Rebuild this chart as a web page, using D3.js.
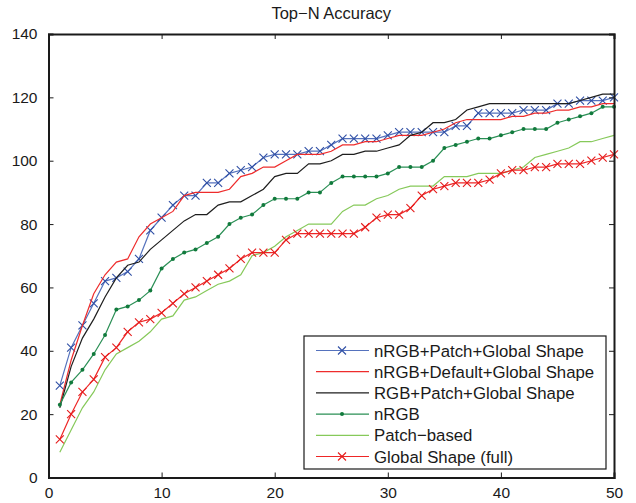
<!DOCTYPE html>
<html>
<head>
<meta charset="utf-8">
<script src="https://cdn.jsdelivr.net/npm/d3@7"></script>
<style>
  body { margin: 0; background: #fff; }
  text { font-family: "Liberation Sans", Arial, Helvetica, sans-serif; fill: #1a1a1a; }
</style>
</head>
<body>
<div id="chart"></div>
<script>
// ranks 1..50
var ranks = d3.range(1, 51);

var xTicks = [0, 10, 20, 30, 40, 50];
var yTicks = [0, 20, 40, 60, 80, 100, 120, 140];

var chartTitle = "Top\u2212N Accuracy";

var seriesNames = [
  "nRGB+Patch+Global Shape",
  "nRGB+Default+Global Shape",
  "RGB+Patch+Global Shape",
  "nRGB",
  "Patch\u2212based",
  "Global Shape (full)"
];

var nrgbPatchGlobal = [29,41,48,55,62,63,65,69,78,82, 86,89,89,93,93,96,97,98,101,102,
  102,102,103,103,105,107,107,107,107,108, 109,109,109,109,109,111,111,115,115,115,
  115,116,116,116,118,118,119,119,119,120];

var nrgbDefaultGlobal = [23,37,48,58,64,68,69,76,80,82, 84,89,90,90,90,91,95,96,98,98,
  100,102,102,102,103,105,105,106,106,107, 108,108,108,109,110,112,113,113,113,113,
  114,114,115,115,116,116,117,117,118,118];

var rgbPatchGlobal = [22,35,44,50,57,63,67,68,72,75, 78,81,83,83,86,87,87,89,91,95,
  96,96,99,99,100,102,102,103,103,104, 105,108,109,112,112,113,116,117,118,118,
  118,118,118,118,118,118,119,120,121,121];

var nrgb = [23,30,34,39,45,53,54,56,59,66, 69,71,72,74,76,80,82,83,86,88,
  88,88,90,90,93,95,95,95,95,96, 98,98,98,100,104,105,106,107,107,108,
  109,110,110,110,112,113,114,115,117,117];

var patchBased = [8,15,22,27,34,39,41,43,46,50, 51,56,57,59,61,62,64,70,71,73,
  76,78,80,80,80,84,86,86,88,89, 91,92,92,92,95,95,95,96,96,96,
  97,98,101,102,103,104,106,106,107,108];

var globalShapeFull = [12,20,27,31,38,41,46,49,50,52, 55,58,60,62,64,66,69,71,71,71,
  75,77,77,77,77,77,77,79,82,83, 83,85,89,91,92,93,93,93,94,96,
  97,97,98,98,99,99,99,100,101,102];

// styles per series (same order as names)
var styles = [
  {values: nrgbPatchGlobal,   color: "#5572bd", mark: "#2f4fa5", marker: "x"},
  {values: nrgbDefaultGlobal, color: "#ee2c2c", mark: null,      marker: null},
  {values: rgbPatchGlobal,    color: "#1e1e1e", mark: null,      marker: null},
  {values: nrgb,              color: "#2a8f55", mark: "#117a3c", marker: "dot"},
  {values: patchBased,        color: "#86c95a", mark: null,      marker: null},
  {values: globalShapeFull,   color: "#ee2626", mark: "#e51b1b", marker: "x"}
];

// #####################################################
// Plot
//
function plot_chart (div_id) {
  var W = 636, H = 503;
  var left = 48.5, right = 614, top = 34, bottom = 477.5;

  var svg = d3.select(div_id).append("svg")
      .attr("width", W)
      .attr("height", H);

  var x = d3.scaleLinear().domain([0, 50]).range([left, right]);
  var y = d3.scaleLinear().domain([0, 140]).range([bottom, top]);

  // title
  svg.append("text")
      .attr("x", (left + right) / 2)
      .attr("y", 19)
      .attr("text-anchor", "middle")
      .style("font-size", "16.5px")
      .text(chartTitle);

  var line = d3.line()
      .x(function(d, i) { return x(ranks[i]); })
      .y(function(d) { return y(d); });

  var plot = svg.append("g");

  styles.forEach(function(s) {
    plot.append("path")
        .datum(s.values)
        .attr("fill", "none")
        .attr("stroke", s.color)
        .attr("stroke-width", 1.2)
        .attr("d", line);

    if (s.marker == "x") {
      plot.selectAll(null)
          .data(s.values)
        .enter().append("path")
          .attr("fill", "none")
          .attr("stroke", s.mark)
          .attr("stroke-width", 1.1)
          .attr("d", "M-4,-4L4,4M-4,4L4,-4")
          .attr("transform", function(d, i) { return "translate(" + x(ranks[i]) + "," + y(d) + ")"; });
    } else if (s.marker == "dot") {
      plot.selectAll(null)
          .data(s.values)
        .enter().append("circle")
          .attr("r", 2)
          .attr("fill", s.mark)
          .attr("cx", function(d, i) { return x(ranks[i]); })
          .attr("cy", function(d) { return y(d); });
    }
  });

  // axes: ticks inward on all four sides, like matlab
  var tickLen = 5;
  var axisColor = "#1a1a1a";

  svg.append("g")
      .attr("transform", "translate(0," + bottom + ")")
      .call(d3.axisBottom(x).tickValues(xTicks).tickSize(-tickLen).tickPadding(9))
      .call(style_axis);
  svg.append("g")
      .attr("transform", "translate(0," + top + ")")
      .call(d3.axisTop(x).tickValues(xTicks).tickSize(-tickLen).tickFormat(""))
      .call(style_axis);
  svg.append("g")
      .attr("transform", "translate(" + left + ",0)")
      .call(d3.axisLeft(y).tickValues(yTicks).tickSize(-tickLen).tickPadding(11))
      .call(style_axis);
  svg.append("g")
      .attr("transform", "translate(" + right + ",0)")
      .call(d3.axisRight(y).tickValues(yTicks).tickSize(-tickLen).tickFormat(""))
      .call(style_axis);

  function style_axis (g) {
    g.select(".domain").attr("stroke", axisColor).attr("stroke-width", 2);
    g.selectAll(".tick line").attr("stroke", axisColor).attr("stroke-width", 1);
    g.selectAll(".tick text")
        .style("font-family", "'Liberation Sans', Arial, Helvetica, sans-serif")
        .style("font-size", "15.5px")
        .attr("fill", "#1a1a1a");
  }

  // legend
  var lx = 304, ly = 336, lw = 302, lh = 133, rowH = 21.2;
  var legend = svg.append("g");
  legend.append("rect")
      .attr("x", lx).attr("y", ly)
      .attr("width", lw).attr("height", lh)
      .attr("fill", "#fff")
      .attr("stroke", "#1a1a1a")
      .attr("stroke-width", 1.2);

  styles.forEach(function(s, i) {
    var cy = ly + 14.5 + i * rowH;
    legend.append("line")
        .attr("x1", lx + 12).attr("x2", lx + 65)
        .attr("y1", cy).attr("y2", cy)
        .attr("stroke", s.color)
        .attr("stroke-width", 1.2);
    if (s.marker == "x") {
      legend.append("path")
          .attr("fill", "none")
          .attr("stroke", s.mark)
          .attr("stroke-width", 1.1)
          .attr("d", "M-4,-4L4,4M-4,4L4,-4")
          .attr("transform", "translate(" + (lx + 38) + "," + cy + ")");
    } else if (s.marker == "dot") {
      legend.append("circle")
          .attr("r", 2).attr("fill", s.mark)
          .attr("cx", lx + 38).attr("cy", cy);
    }
    legend.append("text")
        .attr("x", lx + 70)
        .attr("y", cy + 6)
        .style("font-size", "16.8px")
        .text(seriesNames[i]);
  });
}

plot_chart("#chart");
</script>
</body>
</html>
